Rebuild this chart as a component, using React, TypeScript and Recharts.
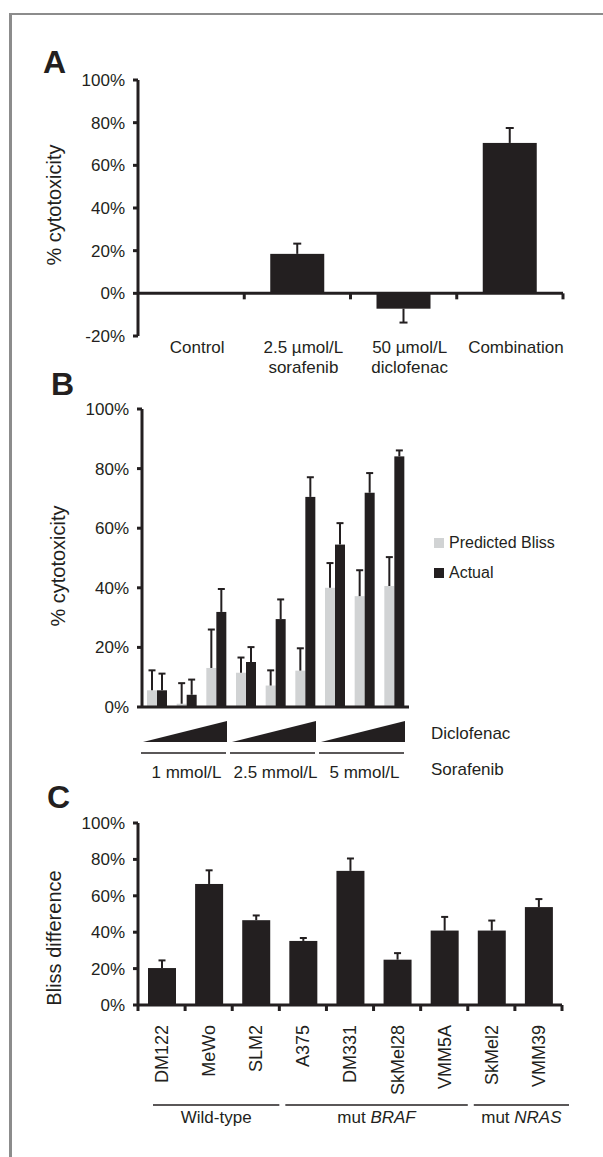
import React from 'react';
import { BarChart, Bar, XAxis, YAxis, ReferenceLine, Legend } from 'recharts';

const FONT = "'Liberation Sans', Arial, Helvetica, sans-serif";
const INK = '#231f20';
const GREY = '#d1d3d4';

// Panel A: single-agent vs combination
const aLine1 = ['Control', '2.5 µmol/L', '50 µmol/L', 'Combination'];
const aLine2 = ['', 'sorafenib', 'diclofenac', ''];
const aValues = [0, 18.5, -7.2, 70.5];
const aErrors = [0, 4.8, 6.5, 7];
const aTicks = [-20, 0, 20, 40, 60, 80, 100];

// Panel B: dose matrix, predicted Bliss vs actual
const bSeries = ['Predicted Bliss', 'Actual'];
const bDoses = [
  '1 mmol/L', '1 mmol/L', '1 mmol/L',
  '2.5 mmol/L', '2.5 mmol/L', '2.5 mmol/L',
  '5 mmol/L', '5 mmol/L', '5 mmol/L',
];
const bPredicted = [5.6, 1.1, 13.1, 11.5, 7.2, 12.2, 40, 37.2, 40.6];
const bPredictedErr = [6.7, 6.9, 12.9, 5.1, 5.1, 7.5, 8.3, 8.7, 9.7];
const bActual = [5.6, 4.1, 31.9, 15.1, 29.5, 70.5, 54.5, 71.9, 84.1];
const bActualErr = [5.6, 5.1, 7.7, 5, 6.6, 6.6, 7.2, 6.6, 2];
const pctTicks = [0, 20, 40, 60, 80, 100];

// Panel C: Bliss difference per cell line
const cLines = ['DM122', 'MeWo', 'SLM2', 'A375', 'DM331', 'SkMel28', 'VMM5A', 'SkMel2', 'VMM39'];
const cBliss = [20.3, 66.5, 46.6, 35.2, 73.7, 24.9, 40.9, 40.9, 53.8];
const cBlissErr = [4.2, 7.5, 2.6, 1.6, 6.8, 3.6, 7.5, 5.5, 4.4];
const cGroupPrefix = ['Wild-type', 'mut ', 'mut '];
const cGroupGene = ['', 'BRAF', 'NRAS'];
const cGroupSizes = [3, 4, 2];

const aData = aLine1.map((name, i) => ({ name, value: aValues[i], err: aErrors[i] }));
const bData = bDoses.map((dose, i) => ({
  key: 'b' + i,
  dose,
  predicted: bPredicted[i],
  predictedErr: bPredictedErr[i],
  actual: bActual[i],
  actualErr: bActualErr[i],
}));
const cData = cLines.map((name, i) => ({ name, value: cBliss[i], err: cBlissErr[i] }));

const A_W = 563 - 138;
const A_H = 336 - 80;
const B_W = 409 - 142;
const C_W = 562 - 138;

const pct = (v: number) => v + '%';
const tickText = { fill: INK, fontSize: 17, fontFamily: FONT };
const axisStroke = { stroke: INK, strokeWidth: 3 };

// bar with a one-sided error bar pointing away from zero
function errorShape(valueKey: string, errKey: string, fill: string, cap: number) {
  return (props: any) => {
    const { x, y, width, height, payload } = props;
    const v = payload[valueKey];
    const err = payload[errKey];
    const h = Math.abs(height);
    if (!h || !v) return <g />;
    const top = Math.min(y, y + height);
    const bottom = top + h;
    const ppu = h / Math.abs(v);
    const end = v >= 0 ? top : bottom;
    const errEnd = v >= 0 ? top - err * ppu : bottom + err * ppu;
    const cx = x + width / 2;
    return (
      <g>
        <rect x={x} y={top} width={width} height={h} fill={fill} />
        <line x1={cx} x2={cx} y1={end} y2={errEnd} stroke={INK} strokeWidth={2} />
        <line x1={cx - cap / 2} x2={cx + cap / 2} y1={errEnd} y2={errEnd} stroke={INK} strokeWidth={2} />
      </g>
    );
  };
}

const ATick = (props: any) => {
  const { x, y, index } = props;
  const band = A_W / 4;
  const zeroY = y - (A_H * 20) / 120;
  return (
    <g>
      <line x1={x + band / 2} x2={x + band / 2} y1={zeroY} y2={zeroY + 6} stroke={INK} strokeWidth={3} />
      <text x={x + 6} y={y + 17} textAnchor="middle" style={tickText}>{aLine1[index]}</text>
      {aLine2[index] ? (
        <text x={x + 6} y={y + 37} textAnchor="middle" style={tickText}>{aLine2[index]}</text>
      ) : null}
    </g>
  );
};

const DoseTick = (props: any) => {
  const { x, y, payload } = props;
  const band = B_W / 3;
  const left = x - band / 2;
  const right = x + band / 2;
  return (
    <g>
      <polygon
        points={`${left + 1},${y + 33} ${right - 4},${y + 12} ${right - 4},${y + 33}`}
        fill={INK}
      />
      <line x1={left - 1} x2={right - 5} y1={y + 44} y2={y + 44} stroke={INK} strokeWidth={1.5} />
      <text x={x} y={y + 69} textAnchor="middle" style={tickText}>{payload.value}</text>
    </g>
  );
};

const CTick = (props: any) => {
  const { x, y, index, payload } = props;
  const band = C_W / 9;
  let start = 0;
  let group = -1;
  for (let g = 0; g < cGroupSizes.length; g++) {
    if (index === start) group = g;
    start += cGroupSizes[g];
  }
  let groupEl = null;
  if (group >= 0) {
    const gl = x - band / 2 + (group === 0 ? 15 : 6);
    const gr = x - band / 2 + cGroupSizes[group] * band + (group === cGroupSizes.length - 1 ? 7 : 0);
    groupEl = (
      <g>
        <line x1={gl} x2={gr} y1={y + 100} y2={y + 100} stroke={INK} strokeWidth={1.5} />
        <text x={(gl + gr) / 2} y={y + 118} textAnchor="middle" style={tickText}>
          {cGroupPrefix[group]}
          {cGroupGene[group] ? <tspan fontStyle="italic">{cGroupGene[group]}</tspan> : null}
        </text>
      </g>
    );
  }
  return (
    <g>
      {index === 0 ? (
        <line x1={x - band / 2} x2={x - band / 2} y1={y} y2={y + 6} stroke={INK} strokeWidth={3} />
      ) : null}
      <line x1={x + band / 2} x2={x + band / 2} y1={y} y2={y + 6} stroke={INK} strokeWidth={3} />
      <text
        x={x}
        y={y + 20}
        dy="0.36em"
        textAnchor="end"
        transform={`rotate(-90 ${x} ${y + 20})`}
        style={{ ...tickText, fontSize: 18 }}
      >
        {payload.value}
      </text>
      {groupEl}
    </g>
  );
};

const LegendBox = (props: any) => {
  const items = [...(props.payload || [])].sort(
    (p: any, q: any) => bSeries.indexOf(p.value) - bSeries.indexOf(q.value)
  );
  return (
    <div style={{ fontFamily: FONT, fontSize: 16, color: INK }}>
      {items.map((p: any) => (
        <div key={p.value} style={{ display: 'flex', alignItems: 'center', height: 30 }}>
          <span style={{ width: 10, height: 10, background: p.color, marginRight: 5, display: 'inline-block' }} />
          <span>{p.value}</span>
        </div>
      ))}
    </div>
  );
};

export default function App() {
  return (
    <div style={{ position: 'absolute', left: 0, top: 0, width: 603, height: 1157, overflow: 'hidden', background: '#fff' }}>
      <div
        style={{
          position: 'absolute', left: 9, top: 13, width: 700, height: 1300,
          borderTop: '2px solid #8c8c8c', borderLeft: '3px solid #8c8c8c',
        }}
      />

      <div style={{ position: 'absolute', left: 0, top: 0 }}>
        <BarChart width={603} height={385} data={aData} margin={{ top: 80, right: 40, bottom: 4, left: 78 }}>
          <XAxis
            dataKey="name"
            axisLine={false}
            tickLine={false}
            tickSize={0}
            tickMargin={0}
            height={45}
            interval={0}
            tick={ATick}
          />
          <YAxis
            width={60}
            domain={[-20, 100]}
            ticks={aTicks}
            tickFormatter={pct}
            axisLine={axisStroke}
            tickLine={axisStroke}
            tickSize={5}
            tickMargin={8}
            tick={tickText}
            interval={0}
          />
          <Bar dataKey="value" barSize={54} fill={INK} isAnimationActive={false} shape={errorShape('value', 'err', INK, 8)} />
          <ReferenceLine y={0} stroke={INK} strokeWidth={3} />
        </BarChart>
      </div>

      <div style={{ position: 'absolute', left: 0, top: 385 }}>
        <BarChart width={603} height={405} data={bData} barGap={0} margin={{ top: 24, right: 194, bottom: 6, left: 82 }}>
          <XAxis dataKey="key" axisLine={axisStroke} tick={false} tickLine={false} height={2} />
          <XAxis
            xAxisId="dose"
            dataKey="dose"
            allowDuplicatedCategory={false}
            axisLine={false}
            tickLine={false}
            tickSize={0}
            tickMargin={0}
            height={75}
            interval={0}
            tick={DoseTick}
          />
          <YAxis
            width={60}
            domain={[0, 100]}
            ticks={pctTicks}
            tickFormatter={pct}
            axisLine={axisStroke}
            tickLine={axisStroke}
            tickSize={5}
            tickMargin={8}
            tick={tickText}
            interval={0}
          />
          <Legend
            layout="vertical"
            align="center"
            verticalAlign="middle"
            wrapperStyle={{ left: 434, top: 143, width: 160 }}
            content={LegendBox}
          />
          <Bar
            dataKey="predicted"
            name={bSeries[0]}
            barSize={10}
            fill={GREY}
            isAnimationActive={false}
            shape={errorShape('predicted', 'predictedErr', GREY, 7)}
          />
          <Bar
            dataKey="actual"
            name={bSeries[1]}
            barSize={10}
            fill={INK}
            isAnimationActive={false}
            shape={errorShape('actual', 'actualErr', INK, 7)}
          />
        </BarChart>
      </div>

      <div style={{ position: 'absolute', left: 0, top: 790 }}>
        <BarChart width={603} height={367} data={cData} margin={{ top: 33, right: 41, bottom: 12, left: 78 }}>
          <XAxis
            dataKey="name"
            axisLine={axisStroke}
            tickLine={false}
            tickSize={0}
            tickMargin={0}
            height={140}
            interval={0}
            tick={CTick}
          />
          <YAxis
            width={60}
            domain={[0, 100]}
            ticks={pctTicks}
            tickFormatter={pct}
            axisLine={axisStroke}
            tickLine={axisStroke}
            tickSize={5}
            tickMargin={8}
            tick={tickText}
            interval={0}
          />
          <Bar dataKey="value" barSize={28} fill={INK} isAnimationActive={false} shape={errorShape('value', 'err', INK, 7)} />
        </BarChart>
      </div>

      <svg
        width={603}
        height={1157}
        style={{ position: 'absolute', left: 0, top: 0, pointerEvents: 'none', fontFamily: FONT }}
      >
        <g fill={INK} fontWeight="bold" fontSize={32}>
          <text x={43} y={73}>A</text>
          <text x={51} y={395}>B</text>
          <text x={47} y={808}>C</text>
        </g>
        <g fill={INK} fontSize={20} textAnchor="middle">
          <text x={54} y={205} dominantBaseline="central" transform="rotate(-90 54 205)">% cytotoxicity</text>
          <text x={58} y={566} dominantBaseline="central" transform="rotate(-90 58 566)">% cytotoxicity</text>
          <text x={54} y={938} dominantBaseline="central" transform="rotate(-90 54 938)">Bliss difference</text>
        </g>
        <g fill={INK} fontSize={17}>
          <text x={431} y={739}>Diclofenac</text>
          <text x={431} y={775}>Sorafenib</text>
        </g>
      </svg>
    </div>
  );
}
